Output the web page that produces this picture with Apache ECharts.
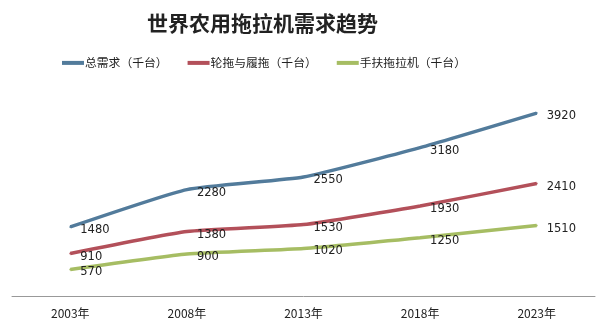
<!DOCTYPE html>
<html><head><meta charset="utf-8">
<script src="https://cdn.jsdelivr.net/npm/echarts@6/dist/echarts.min.js"></script>
<style>html,body{margin:0;padding:0;background:#fff}#c{width:608px;height:328px}</style>
</head><body><div id="c"></div>
<script>
const categories = ['2003年','2008年','2013年','2018年','2023年'];
const totalDemand = [1480, 2280, 2550, 3180, 3920];
const wheelCrawler = [910, 1380, 1530, 1930, 2410];
const walkingTractor = [570, 900, 1020, 1250, 1510];
const seriesNames = ['总需求（千台）','轮拖与履拖（千台）','手扶拖拉机（千台）'];
const colors = ['#527b9b','#b3505a','#a6bd63'];

const chart = echarts.init(document.getElementById('c'));
function mk(name, data, color){
  return {
    name, type:'line', data, smooth:0.15, symbol:'circle', symbolSize:2, showSymbol:true,
    lineStyle:{width:3.5,color}, itemStyle:{color},
    label:{show:true,position:'right',distance:9,offset:[0,3],color:'#222',fontSize:11.5,fontFamily:'DejaVu Sans'}
  };
}
chart.setOption({
  animation:false,
  title:{text:'世界农用拖拉机需求趋势',left:142,top:8,
    textStyle:{fontFamily:'Noto Sans CJK SC',fontSize:21,fontWeight:'bold',color:'#222'}},
  legend:{top:52,left:57,icon:'rect',itemWidth:22,itemHeight:4,itemGap:20,
    textStyle:{fontFamily:'Noto Sans CJK SC',fontSize:11.8,color:'#222',padding:[0,0,0,-4]},
    data:seriesNames},
  grid:{left:12,right:13,top:86,bottom:32},
  xAxis:{type:'category',data:categories,boundaryGap:true,
    axisLine:{lineStyle:{color:'#999',width:1}},axisTick:{show:false},
    axisLabel:{color:'#222',fontSize:12,margin:11,fontFamily:'Noto Sans CJK SC'}},
  yAxis:{type:'value',min:0,max:4500,show:false,splitLine:{show:false}},
  series:[mk(seriesNames[0],totalDemand,colors[0]),mk(seriesNames[1],wheelCrawler,colors[1]),mk(seriesNames[2],walkingTractor,colors[2])]
});
</script></body></html>
